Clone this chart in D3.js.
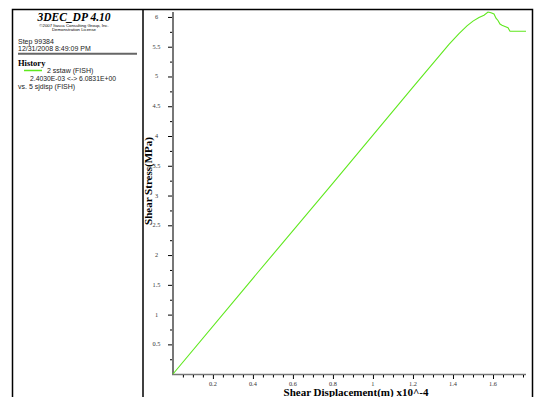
<!DOCTYPE html>
<html><head><meta charset="utf-8">
<script src="https://cdn.jsdelivr.net/npm/d3@7"></script>
<style>body{margin:0;background:#fff}svg{display:block}</style>
</head><body><svg id="c" width="535" height="397"></svg>
<script>
// Data
const disp = [0.0006, 0.4, 0.8, 1.2, 1.38, 1.43, 1.47, 1.50, 1.53, 1.555, 1.575, 1.59, 1.605, 1.615, 1.625, 1.635, 1.645, 1.66, 1.675, 1.685, 1.765];
const stress = [0.0024, 1.61, 3.21, 4.82, 5.54, 5.72, 5.85, 5.93, 5.99, 6.03, 6.0831, 6.07, 6.05, 5.98, 5.94, 5.88, 5.86, 5.84, 5.82, 5.76, 5.76];
const xMajorTicks = [0.2, 0.4, 0.6, 0.8, 1, 1.2, 1.4, 1.6];
const xTickLabels = ["0.2", "0.4", "0.6", "0.8", "1", "1.2", "1.4", "1.6"];
const yMajorTicks = [0.5, 1, 1.5, 2, 2.5, 3, 3.5, 4, 4.5, 5, 5.5, 6];
const yTickLabels = ["0.5", "1", "1.5", "2", "2.5", "3", "3.5", "4", "4.5", "5", "5.5", "6"];
const xMinorStep = 0.05, yMinorStep = 0.25;
const titleText = "3DEC_DP 4.10";
const copyLines = ["©2007 Itasca Consulting Group, Inc.", "Demonstration License"];
const stepText = "Step 99384";
const dateText = "12/31/2008 8:49:09 PM";
const legendName = "2 sstaw (FISH)";
const legendRange = "2.4030E-03 <-> 6.0831E+00";
const legendVs = "vs. 5 sjdisp (FISH)";
const xTitle = "Shear Displacement(m) x10^-4";
const yTitle = "Shear Stress(MPa)";
const lineColor = "#5fe81e";

const svg = d3.select("#c");
const serif = "'Liberation Serif','DejaVu Serif',serif";
const sans = "'Liberation Sans',Arial,sans-serif";

// frame
const fr = svg.append("g").attr("stroke", "#000").attr("stroke-width", 1.5).attr("fill", "none");
fr.append("path").attr("d", "M12.5,397V9.5H532.5V397");
fr.append("line").attr("x1", 143).attr("x2", 143).attr("y1", 9.5).attr("y2", 397);

// left panel
const lp = svg.append("g");
lp.append("text").attr("x", 74).attr("y", 21).attr("text-anchor", "middle")
  .attr("font-family", serif).attr("font-weight", "bold").attr("font-style", "italic")
  .attr("font-size", 11.5).text(titleText);
copyLines.forEach((t, i) => lp.append("text").attr("x", 74).attr("y", 26.5 + i * 4.5)
  .attr("text-anchor", "middle").attr("font-family", sans).attr("font-size", 4.3).text(t));
lp.append("text").attr("x", 18).attr("y", 43.5).attr("font-family", sans).attr("font-size", 7).attr("fill", "#222").text(stepText);
lp.append("text").attr("x", 18).attr("y", 51).attr("font-family", sans).attr("font-size", 7).attr("fill", "#222").text(dateText);
lp.append("line").attr("x1", 18).attr("x2", 137).attr("y1", 53.8).attr("y2", 53.8).attr("stroke", "#666").attr("stroke-width", 2);
lp.append("text").attr("x", 18).attr("y", 65.5).attr("font-family", serif).attr("font-weight", "bold").attr("font-size", 8.5).text("History");
lp.append("line").attr("x1", 24).attr("x2", 42).attr("y1", 70.5).attr("y2", 70.5).attr("stroke", lineColor).attr("stroke-width", 1.5);
lp.append("text").attr("x", 47).attr("y", 73).attr("font-family", sans).attr("font-size", 7).attr("fill", "#222").text(legendName);
lp.append("text").attr("x", 30).attr("y", 81).attr("font-family", sans).attr("font-size", 6.8).attr("fill", "#222").text(legendRange);
lp.append("text").attr("x", 18).attr("y", 89).attr("font-family", sans).attr("font-size", 7).attr("fill", "#222").text(legendVs);

// scales
const x = d3.scaleLinear().domain([d3.min(disp), d3.max(disp)]).range([173, 526]);
const y = d3.scaleLinear().domain([d3.min(stress), d3.max(stress)]).range([374, 12]);

// minor tick values
const xMinor = d3.range(xMinorStep, d3.max(disp) + 1e-9, xMinorStep).filter(v => !xMajorTicks.some(m => Math.abs(m - v) < 1e-6));
const yMinor = d3.range(yMinorStep, d3.max(stress) + 1e-9, yMinorStep).filter(v => !yMajorTicks.some(m => Math.abs(m - v) < 1e-6));

// axes lines
svg.append("line").attr("x1", 173).attr("x2", 173).attr("y1", y.range()[1]).attr("y2", 374.5).attr("stroke", "#777").attr("stroke-width", 2);
svg.append("line").attr("x1", 172).attr("x2", 526).attr("y1", 374.5).attr("y2", 374.5).attr("stroke", "#777").attr("stroke-width", 1.5);

// y axis with d3 axes
const yAxMajor = d3.axisLeft(y).tickValues(yMajorTicks).tickSize(4).tickFormat((d, i) => "");
const yAxMinor = d3.axisLeft(y).tickValues(yMinor).tickSize(2).tickFormat("");
[yAxMajor, yAxMinor].forEach(ax => {
  const g = svg.append("g").attr("transform", "translate(172,0)").call(ax);
  g.select(".domain").remove();
  g.selectAll("line").attr("stroke", "#000");
});
svg.append("g").selectAll("text").data(yMajorTicks).join("text")
  .attr("x", 156.5).attr("y", d => y(d) + 2).attr("text-anchor", "middle")
  .attr("font-family", serif).attr("font-size", 6.3).attr("fill", "#333")
  .text((d, i) => yTickLabels[i]);

const xAxMajor = d3.axisBottom(x).tickValues(xMajorTicks).tickSize(4).tickFormat("");
const xAxMinor = d3.axisBottom(x).tickValues(xMinor).tickSize(2.5).tickFormat("");
[xAxMajor, xAxMinor].forEach(ax => {
  const g = svg.append("g").attr("transform", "translate(0,375)").call(ax);
  g.select(".domain").remove();
  g.selectAll("line").attr("stroke", "#000");
});
svg.append("g").selectAll("text").data(xMajorTicks).join("text")
  .attr("x", d => x(d)).attr("y", 385.5).attr("text-anchor", "middle")
  .attr("font-family", serif).attr("font-size", 6.3).attr("fill", "#333")
  .text((d, i) => xTickLabels[i]);

// titles
svg.append("text").attr("x", 356).attr("y", 396).attr("text-anchor", "middle")
  .attr("font-family", serif).attr("font-weight", "bold").attr("font-size", 11).text(xTitle);
svg.append("text").attr("transform", "translate(152,181) rotate(-90)").attr("text-anchor", "middle")
  .attr("font-family", serif).attr("font-weight", "bold").attr("font-size", 11).text(yTitle);

// data line
svg.append("path").datum(disp.map((d, i) => [d, stress[i]]))
  .attr("fill", "none").attr("stroke", lineColor).attr("stroke-width", 1.1)
  .attr("d", d3.line().x(d => x(d[0])).y(d => y(d[1])));
</script></body></html>
